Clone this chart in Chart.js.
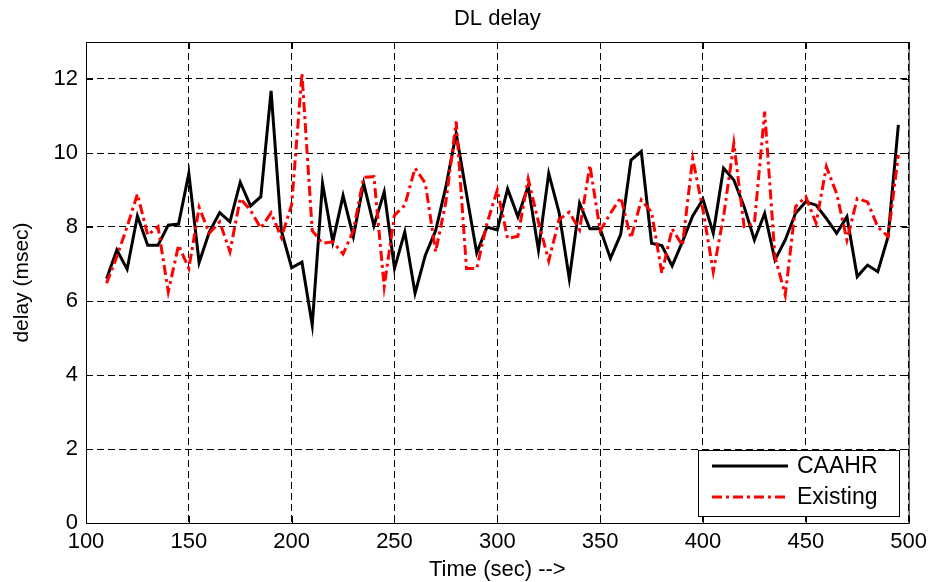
<!DOCTYPE html>
<html>
<head>
<meta charset="utf-8">
<script src="https://cdn.jsdelivr.net/npm/chart.js@4.4.0/dist/chart.umd.min.js"></script>
<style>
  html, body { margin: 0; padding: 0; background: #fff; }
  #wrap { width: 933px; height: 582px; position: relative; }
</style>
</head>
<body>
<div id="wrap"><canvas id="delayChart"></canvas></div>
<script>
// --- DATA ---
const timeSec = [
    110, 115, 120, 125, 130, 135, 140, 145, 150, 155,
    160, 165, 170, 175, 180, 185, 190, 195, 200, 205,
    210, 215, 220, 225, 230, 235, 240, 245, 250, 255,
    260, 265, 270, 275, 280, 285, 290, 295, 300, 305,
    310, 315, 320, 325, 330, 335, 340, 345, 350, 355,
    360, 365, 370, 375, 380, 385, 390, 395, 400, 405,
    410, 415, 420, 425, 430, 435, 440, 445, 450, 455,
    460, 465, 470, 475, 480, 485, 490, 495
];
const caahrDelay = [
    6.60, 7.38, 6.86, 8.30, 7.51, 7.51, 8.05, 8.08, 9.45, 7.04,
    7.87, 8.39, 8.14, 9.21, 8.57, 8.82, 11.68, 7.90, 6.90, 7.05,
    5.35, 9.18, 7.60, 8.85, 7.74, 9.18, 8.03, 8.95, 6.88, 7.87,
    6.21, 7.24, 7.90, 9.09, 10.53, 8.90, 7.30, 8.00, 7.92, 9.03,
    8.28, 9.10, 7.38, 9.45, 8.40, 6.60, 8.64, 7.95, 7.95, 7.15,
    7.80, 9.81, 10.04, 7.56, 7.50, 6.95, 7.60, 8.30, 8.75, 7.83,
    9.59, 9.27, 8.55, 7.65, 8.37, 7.11, 7.65, 8.37, 8.68, 8.59,
    8.23, 7.83, 8.28, 6.66, 6.97, 6.79, 7.74, 10.76
];
const existingDelay = [
    6.48, 7.20, 8.01, 8.89, 7.78, 8.01, 6.25, 7.51, 6.88, 8.53,
    7.83, 8.14, 7.33, 8.77, 8.45, 7.97, 8.38, 7.72, 8.60, 12.15,
    7.90, 7.56, 7.60, 7.27, 7.90, 9.34, 9.36, 6.39, 8.32, 8.59,
    9.59, 9.18, 7.33, 8.68, 10.85, 6.88, 6.88, 8.10, 9.00, 7.69,
    7.75, 9.30, 8.14, 7.08, 8.20, 8.40, 7.92, 9.67, 7.90, 8.37,
    8.80, 7.70, 8.73, 8.40, 6.75, 7.95, 7.50, 9.85, 8.46, 6.79,
    8.28, 10.26, 8.01, 8.10, 11.12, 7.20, 6.16, 8.55, 8.82, 8.10,
    9.63, 8.90, 7.65, 8.77, 8.68, 8.00, 7.74, 9.95
];
const seriesNames = ['CAAHR', 'Existing'];
const xTicks = [100, 150, 200, 250, 300, 350, 400, 450, 500];
const yTicks = [0, 2, 4, 6, 8, 10, 12];

const FONT = '"Liberation Sans", Arial, sans-serif';
const RED_DASH = [10, 4, 3, 4];

const toPoints = (ys) => ys.map((y, i) => ({ x: timeSec[i], y: y }));

// frame, inward ticks, title and legend (MATLAB look)
const matlabFrame = {
    id: 'matlabFrame',
    afterDatasetsDraw(chart) {
        const { ctx, chartArea: a, scales } = chart;
        ctx.save();
        ctx.strokeStyle = '#000';
        ctx.lineWidth = 1;
        ctx.setLineDash([]);
        ctx.strokeRect(a.left + 0.5, a.top + 0.5, a.right - a.left, a.bottom - a.top);
        ctx.beginPath();
        xTicks.forEach(t => {
            const x = Math.round(scales.x.getPixelForValue(t)) + 0.5;
            ctx.moveTo(x, a.bottom); ctx.lineTo(x, a.bottom - 7);
            ctx.moveTo(x, a.top); ctx.lineTo(x, a.top + 7);
        });
        yTicks.forEach(t => {
            const y = Math.round(scales.y.getPixelForValue(t)) + 0.5;
            ctx.moveTo(a.left, y); ctx.lineTo(a.left + 7, y);
            ctx.moveTo(a.right, y); ctx.lineTo(a.right - 7, y);
        });
        ctx.stroke();

        // title
        ctx.fillStyle = '#000';
        ctx.font = '22px ' + FONT;
        ctx.textAlign = 'center';
        ctx.textBaseline = 'middle';
        ctx.fillText('DL delay', (a.left + a.right) / 2, 19);

        // legend box, lower right
        const bx = 698, by = 450, bw = 201, bh = 66;
        ctx.fillStyle = '#fff';
        ctx.fillRect(bx, by, bw, bh);
        ctx.strokeRect(bx + 0.5, by + 0.5, bw, bh);
        ctx.lineWidth = 3;
        ctx.strokeStyle = '#000';
        ctx.beginPath(); ctx.moveTo(712, 466); ctx.lineTo(788, 466); ctx.stroke();
        ctx.strokeStyle = '#ff0000';
        ctx.setLineDash(RED_DASH);
        ctx.beginPath(); ctx.moveTo(712, 497); ctx.lineTo(788, 497); ctx.stroke();
        ctx.setLineDash([]);
        ctx.fillStyle = '#000';
        ctx.font = '23px ' + FONT;
        ctx.textAlign = 'left';
        ctx.fillText(seriesNames[0], 797, 467);
        ctx.fillText(seriesNames[1], 797, 498);
        ctx.restore();
    }
};

new Chart(document.getElementById('delayChart'), {
    type: 'line',
    data: {
        datasets: [{
            label: seriesNames[0],
            data: toPoints(caahrDelay),
            borderColor: '#000',
            borderWidth: 3,
            pointRadius: 0,
            tension: 0,
            order: 2
        }, {
            label: seriesNames[1],
            data: toPoints(existingDelay),
            borderColor: '#ff0000',
            borderWidth: 3,
            borderDash: RED_DASH,
            pointRadius: 0,
            tension: 0,
            order: 1
        }]
    },
    options: {
        responsive: true,
        maintainAspectRatio: false,
        animation: false,
        layout: { padding: { left: 0, right: 23, top: 42, bottom: 0 } },
        plugins: { legend: { display: false }, tooltip: { enabled: false } },
        scales: {
            x: {
                type: 'linear',
                min: 100, max: 500,
                afterFit: (s) => { s.height = 59; },
                afterBuildTicks: (s) => { s.ticks = xTicks.map(v => ({ value: v })); },
                ticks: { color: '#000', font: { family: FONT, size: 22 }, padding: 6, maxRotation: 0 },
                grid: { color: '#000', lineWidth: 1, drawTicks: false },
                border: { display: false, dash: [7, 4] },
                title: { display: true, text: 'Time (sec) -->', color: '#000',
                         font: { family: FONT, size: 22 }, padding: { top: 0, bottom: -1 } }
            },
            y: {
                min: 0, max: 13,
                afterFit: (s) => { s.width = 86; },
                afterBuildTicks: (s) => { s.ticks = yTicks.map(v => ({ value: v })); },
                ticks: { color: '#000', font: { family: FONT, size: 22 }, padding: 8 },
                grid: { color: '#000', lineWidth: 1, drawTicks: false },
                border: { display: false, dash: [7, 4] },
                title: { display: true, text: 'delay (msec)', color: '#000',
                         font: { family: FONT, size: 21 }, padding: { top: 10, bottom: 0 } }
            }
        }
    },
    plugins: [matlabFrame]
});
</script>
</body>
</html>
